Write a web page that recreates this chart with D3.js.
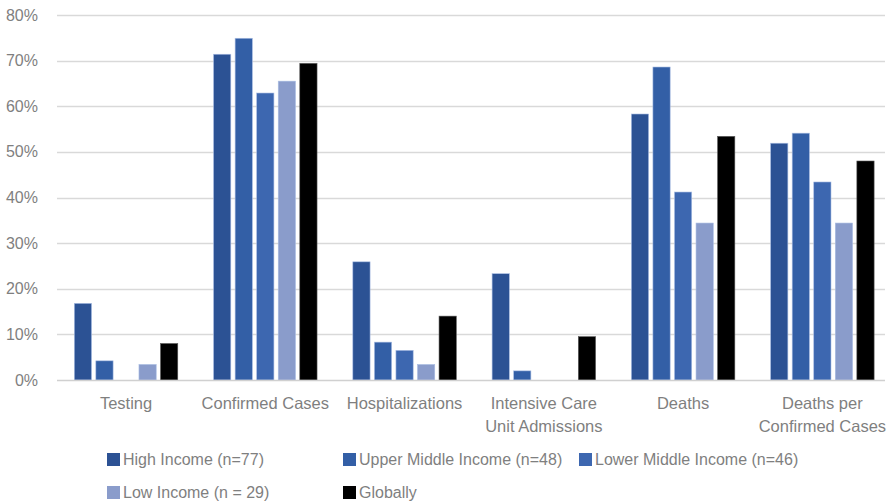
<!DOCTYPE html>
<html>
<head>
<meta charset="utf-8">
<script src="https://cdn.jsdelivr.net/npm/d3@7"></script>
<style>
  body { margin: 0; background: #fff; }
  text { font-family: "Liberation Sans", Arial, sans-serif; fill: #7f7f7f; }
</style>
</head>
<body>
<div id="chart"></div>
<script>
// categories and series
var categories = ["Testing", "Confirmed Cases", "Hospitalizations", "Intensive Care Unit Admissions", "Deaths", "Deaths per Confirmed Cases"];
var categoryLines = [["Testing"], ["Confirmed Cases"], ["Hospitalizations"], ["Intensive Care", "Unit Admissions"], ["Deaths"], ["Deaths per", "Confirmed Cases"]];
var seriesNames = ["High Income (n=77)", "Upper Middle Income (n=48)", "Lower Middle Income (n=46)", "Low Income (n = 29)", "Globally"];
var highIncome = [16.8, 71.4, 25.9, 23.3, 58.3, 51.9];
var upperMiddle = [4.2, 74.9, 8.3, 2.0, 68.6, 54.1];
var lowerMiddle = [0, 62.9, 6.5, 0, 41.2, 43.4];
var lowIncome = [3.4, 65.5, 3.4, 0, 34.4, 34.4];
var globally = [8.0, 69.4, 14.0, 9.5, 53.4, 48.0];
var yTicks = [0, 10, 20, 30, 40, 50, 60, 70, 80];
var colors = ["#2c5294", "#335fa6", "#3d67b0", "#8a9ccb", "#000000"];

var seriesValues = [highIncome, upperMiddle, lowerMiddle, lowIncome, globally];

var width = 888, height = 503;
var margin = { top: 15, right: 3, bottom: 123, left: 57 };

var svg = d3.select("#chart").append("svg")
    .attr("width", width)
    .attr("height", height);

// category bands run slightly past the right edge (the plot is clipped there)
var x0 = d3.scaleBand()
    .domain(categories)
    .range([56.4, 892])
    .paddingInner(0)
    .paddingOuter(0);

var x1 = d3.scaleBand()
    .domain(d3.range(seriesNames.length))
    .range([0, x0.bandwidth()])
    .paddingInner(0.2)
    .paddingOuter(0.83);

var y = d3.scaleLinear()
    .domain([0, 80])
    .range([height - margin.bottom, margin.top]);

// gridlines
svg.append("g")
  .selectAll("line")
  .data(yTicks.filter(d => d > 0))
  .enter().append("line")
    .attr("x1", margin.left)
    .attr("x2", width - margin.right)
    .attr("y1", d => Math.round(y(d)) + 0.5)
    .attr("y2", d => Math.round(y(d)) + 0.5)
    .style("stroke", "#d9d9d9")
    .style("stroke-width", "1.3px");

// y labels
svg.append("g")
  .selectAll("text")
  .data(yTicks)
  .enter().append("text")
    .attr("x", 38)
    .attr("y", d => y(d))
    .attr("dy", "0.35em")
    .style("text-anchor", "end")
    .style("font-size", "16px")
    .text(d => d + "%");

// bars
var groups = svg.append("g")
  .selectAll("g")
  .data(categories)
  .enter().append("g")
    .attr("transform", d => "translate(" + x0(d) + ",0)");

groups.selectAll("rect")
  .data((c, i) => seriesValues.map((s, k) => ({ k: k, v: s[i] })))
  .enter().append("rect")
    .filter(d => d.v > 0)
    .attr("x", d => x1(d.k))
    .attr("width", x1.bandwidth())
    .attr("y", d => y(d.v))
    .attr("height", d => y(0) - y(d.v))
    .attr("fill", d => colors[d.k])
    .style("stroke", d => d.k === 4 ? "#595959" : "#a9bde3")
    .style("stroke-width", "0.6px");

// baseline
svg.append("line")
    .attr("x1", margin.left)
    .attr("x2", width - margin.right)
    .attr("y1", y(0) + 0.5)
    .attr("y2", y(0) + 0.5)
    .style("stroke", "#d0d0d0")
    .style("stroke-width", "1.5px");

// x labels
var xl = svg.append("g")
  .selectAll("text")
  .data(categories)
  .enter().append("text")
    .attr("x", d => x0(d) + x0.bandwidth() / 2)
    .attr("y", 409)
    .style("text-anchor", "middle")
    .style("font-size", "16.5px");

xl.selectAll("tspan")
  .data((d, i) => categoryLines[i])
  .enter().append("tspan")
    .attr("x", function () { return d3.select(this.parentNode).attr("x"); })
    .attr("dy", (d, i) => i === 0 ? 0 : 23)
    .text(d => d);

// legend
var legendPos = [[107, 459], [343, 459], [579, 459], [107, 492], [343, 492]];
var legend = svg.append("g")
  .selectAll("g")
  .data(seriesNames)
  .enter().append("g")
    .attr("transform", (d, i) => "translate(" + legendPos[i][0] + "," + legendPos[i][1] + ")");

legend.append("rect")
    .attr("x", 0)
    .attr("y", -6)
    .attr("width", 13)
    .attr("height", 13)
    .attr("fill", (d, i) => colors[i]);

legend.append("text")
    .attr("x", 16)
    .attr("y", 0)
    .attr("dy", "0.35em")
    .style("font-size", "16px")
    .text(d => d);
</script>
</body>
</html>
